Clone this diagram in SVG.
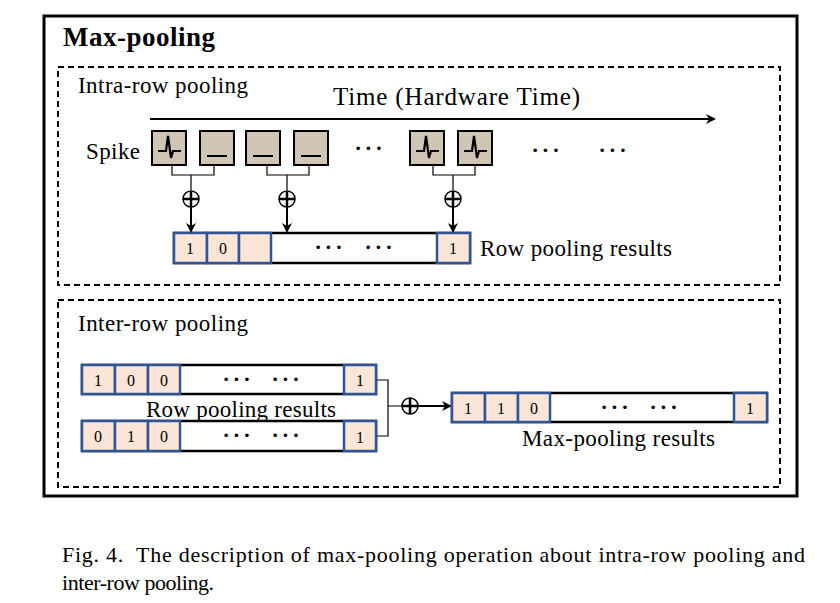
<svg xmlns="http://www.w3.org/2000/svg" width="840" height="603" viewBox="0 0 840 603">
<defs>
<marker id="ah" markerWidth="10" markerHeight="10" refX="8" refY="5" orient="auto" markerUnits="userSpaceOnUse"><path d="M0,0 L10,5 L0,10 L3,5 Z" fill="#000"/></marker>
<g id="pl"><circle cx="0" cy="0" r="8" fill="#fff" stroke="#000" stroke-width="1.5"/><path d="M-8,0H8M0,-8V8" stroke="#000" stroke-width="2.5"/></g>
</defs>
<style>
text{font-family:"Liberation Serif",serif;fill:#000}
.t{font-size:23px}
.c{font-size:16px;text-anchor:middle}
.cell{fill:#fbe5d6;stroke:#2f5597;stroke-width:2.5}
.bar{fill:#fff;stroke:#000;stroke-width:2.5}
.sp{fill:#d0c4b4;stroke:#000;stroke-width:2}
.dash{fill:none;stroke:#000;stroke-width:2;stroke-dasharray:6,4}
.ln{fill:none;stroke:#000;stroke-width:1.2}
.ar{stroke:#000;stroke-width:2;marker-end:url(#ah)}
.dots{font-size:22px;font-weight:bold;text-anchor:middle;letter-spacing:3px}
</style>
<rect width="840" height="603" fill="#fff"/>
<rect x="44" y="16" width="753" height="480" fill="none" stroke="#000" stroke-width="3"/>
<text x="63" y="46" style="font-size:27px;font-weight:bold" textLength="152">Max-pooling</text>
<rect class="dash" x="58" y="67" width="722" height="218"/>
<rect class="dash" x="58" y="300" width="722" height="187"/>
<g id="intra">
<text x="78" y="93" class="t" textLength="170">Intra-row pooling</text>
<text x="333" y="105" style="font-size:25px" textLength="247">Time (Hardware Time)</text>
<text x="86" y="159" class="t" textLength="54">Spike</text>
<g id="spikes">
<rect class="sp" x="152" y="131" width="34" height="34"/>
<rect class="sp" x="200" y="131" width="34" height="34"/>
<rect class="sp" x="246" y="131" width="34" height="34"/>
<rect class="sp" x="294" y="131" width="34" height="34"/>
<rect class="sp" x="410" y="131" width="34" height="34"/>
<rect class="sp" x="458" y="131" width="34" height="34"/>
<path d="M158,151h8l2,-15l3,22l2,-7h8M207,156h20M253,156h20M301,156h20M416,151h8l2,-15l3,22l2,-7h8M464,151h8l2,-15l3,22l2,-7h8" fill="none" stroke="#000" stroke-width="2.2"/>
</g>
<text x="370" y="155" class="dots">···</text>
<text x="547" y="157" class="dots">···</text>
<text x="614" y="157" class="dots">···</text>
<g id="rowbar">
<rect class="bar" x="174" y="233" width="296" height="30"/>
<rect class="cell" x="174" y="233" width="33" height="30"/>
<rect class="cell" x="207" y="233" width="32" height="30"/>
<rect class="cell" x="239" y="233" width="32" height="30"/>
<rect class="cell" x="437" y="233" width="33" height="30"/>
<text x="190" y="254" class="c">1</text><text x="223" y="254" class="c">0</text><text x="453" y="254" class="c">1</text>
<text x="330" y="254" class="dots">···</text><text x="380" y="254" class="dots">···</text>
</g>
<text x="480" y="256" class="t" textLength="192">Row pooling results</text>
</g>
<g id="connectors">
<line x1="150" y1="119" x2="714" y2="119" class="ar" stroke-width="2.5"/>
<path class="ln" d="M172,165V175H214V165M191,175V190M267,165V175H309V165M287,175V190M433,165V175H475V165M453,175V190"/>
<line x1="191" y1="199" x2="191" y2="231" class="ar"/>
<line x1="287" y1="199" x2="287" y2="231" class="ar"/>
<line x1="453" y1="199" x2="453" y2="231" class="ar"/>
<use href="#pl" x="191" y="199"/><use href="#pl" x="287" y="199"/><use href="#pl" x="453" y="199"/>
<path class="ln" d="M376,380H388V436H376M388,406H402"/>
<line x1="418" y1="406" x2="450" y2="406" class="ar"/>
<use href="#pl" x="410" y="406"/>
</g>
<g id="inter">
<text x="78" y="331" class="t" textLength="170">Inter-row pooling</text>
<rect class="bar" x="82" y="365" width="294" height="29"/>
<rect class="cell" x="82" y="365" width="33" height="29"/><rect class="cell" x="115" y="365" width="33" height="29"/><rect class="cell" x="148" y="365" width="32" height="29"/><rect class="cell" x="344" y="365" width="32" height="29"/>
<text x="98" y="386" class="c">1</text><text x="131" y="386" class="c">0</text><text x="164" y="386" class="c">0</text><text x="360" y="386" class="c">1</text>
<text x="238" y="386" class="dots">···</text><text x="287" y="386" class="dots">···</text>
<text x="146" y="417" class="t" textLength="190">Row pooling results</text>
<rect class="bar" x="82" y="421" width="294" height="30"/>
<rect class="cell" x="82" y="421" width="33" height="30"/><rect class="cell" x="115" y="421" width="33" height="30"/><rect class="cell" x="148" y="421" width="32" height="30"/><rect class="cell" x="344" y="421" width="32" height="30"/>
<text x="98" y="442" class="c">0</text><text x="131" y="442" class="c">1</text><text x="164" y="442" class="c">0</text><text x="360" y="443" class="c">1</text>
<text x="238" y="442" class="dots">···</text><text x="287" y="442" class="dots">···</text>
<rect class="bar" x="452" y="393" width="315" height="29"/>
<rect class="cell" x="452" y="393" width="33" height="29"/><rect class="cell" x="485" y="393" width="33" height="29"/><rect class="cell" x="518" y="393" width="32" height="29"/><rect class="cell" x="734" y="393" width="33" height="29"/>
<text x="468" y="414" class="c">1</text><text x="501" y="414" class="c">1</text><text x="534" y="414" class="c">0</text><text x="750" y="414" class="c">1</text>
<text x="616" y="414" class="dots">···</text><text x="665" y="414" class="dots">···</text>
<text x="522" y="446" class="t" textLength="193">Max-pooling results</text>
</g>
<text x="62" y="562" style="font-size:22px" textLength="743" xml:space="preserve">Fig. 4.  The description of max-pooling operation about intra-row pooling and</text>
<text x="62" y="590" style="font-size:22px" textLength="152">inter-row pooling.</text>
</svg>
